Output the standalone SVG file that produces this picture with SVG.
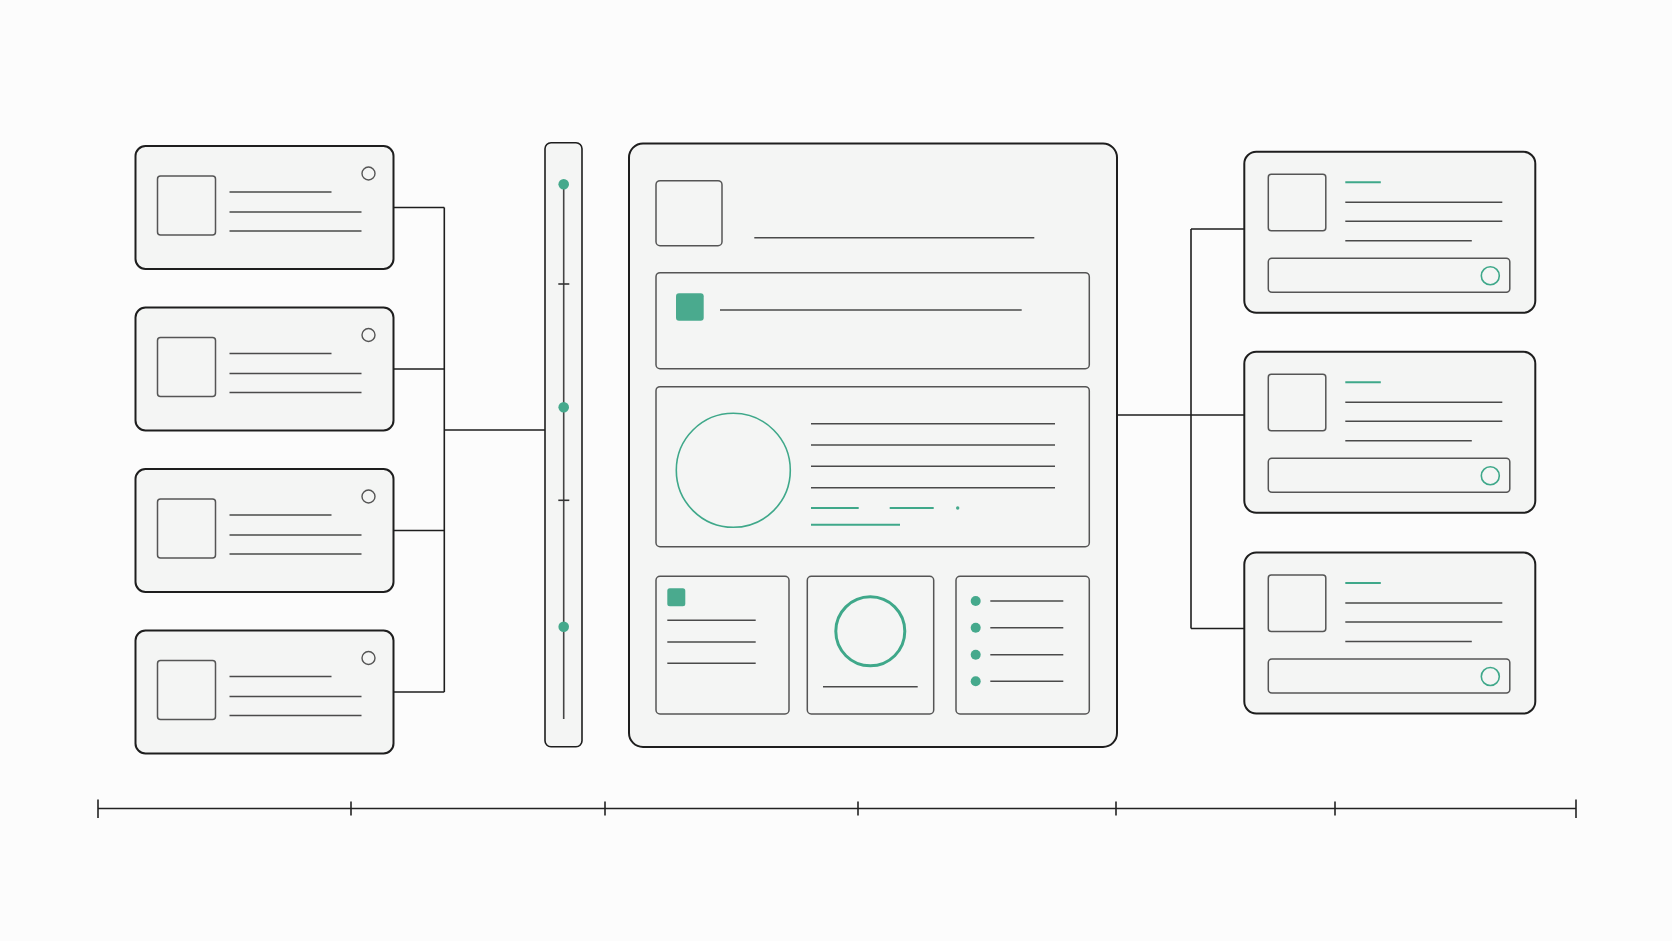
<svg xmlns="http://www.w3.org/2000/svg" width="1672" height="941" viewBox="0 0 1672 941">
<style>
.card{fill:#f4f5f4;stroke:#1e1e1e;stroke-width:2}
.inner{fill:#f4f5f4;stroke:#555;stroke-width:1.5}
.ln{stroke:#4a4a4a;stroke-width:1.6;fill:none}
.gln{stroke:#3fa88a;stroke-width:2;fill:none}
.conn{stroke:#1e1e1e;stroke-width:1.6;fill:none}
.gdot{fill:#45a98c}
.gsq{fill:#4aaa8e}
.ring{fill:none;stroke:#555;stroke-width:1.4}
.gring{fill:none;stroke:#3fa88a;stroke-width:1.6}
</style>
<defs>
<g id="lcard">
<rect class="card" x="0" y="0" width="258" height="123" rx="10"/>
<rect class="inner" x="22" y="30" width="58" height="59" rx="3"/>
<line class="ln" x1="94" y1="46" x2="196" y2="46"/>
<line class="ln" x1="94" y1="66" x2="226" y2="66"/>
<line class="ln" x1="94" y1="85" x2="226" y2="85"/>
<circle class="ring" cx="233" cy="27.5" r="6.5"/>
</g>
<g id="rcard">
<rect class="card" x="0" y="0" width="291" height="161" rx="12"/>
<rect class="inner" x="24" y="22.5" width="57.5" height="56.5" rx="3"/>
<line class="gln" x1="101" y1="30.5" x2="136.5" y2="30.5"/>
<line class="ln" x1="101" y1="50.5" x2="258" y2="50.5"/>
<line class="ln" x1="101" y1="69.5" x2="258" y2="69.5"/>
<line class="ln" x1="101" y1="89" x2="227.5" y2="89"/>
<rect class="inner" x="24" y="106.5" width="241.5" height="34" rx="3.5"/>
<circle class="gring" cx="246" cy="124" r="9"/>
</g>
</defs>
<rect width="1672" height="941" fill="#fcfcfc"/>

<g id="connectors">
<polyline class="conn" points="393.5,207.5 444.3,207.5"/>
<polyline class="conn" points="393.5,369 444.3,369"/>
<polyline class="conn" points="393.5,530.5 444.3,530.5"/>
<polyline class="conn" points="393.5,692 444.3,692"/>
<line class="conn" x1="444.3" y1="207.5" x2="444.3" y2="692"/>
<line class="conn" x1="444.3" y1="430" x2="545" y2="430"/>
<line class="conn" x1="1117" y1="415" x2="1244" y2="415"/>
<line class="conn" x1="1191" y1="229" x2="1191" y2="628.5"/>
<line class="conn" x1="1191" y1="229" x2="1244" y2="229"/>
<line class="conn" x1="1191" y1="628.5" x2="1244" y2="628.5"/>
</g>

<g id="left-card-1"><use href="#lcard" x="135.5" y="146"/></g>
<g id="left-card-2"><use href="#lcard" x="135.5" y="307.5"/></g>
<g id="left-card-3"><use href="#lcard" x="135.5" y="469"/></g>
<g id="left-card-4"><use href="#lcard" x="135.5" y="630.5"/></g>

<g id="timeline-bar">
<rect class="card" x="545" y="142.7" width="37" height="604" rx="6" fill="#f7f8f7" style="stroke-width:1.6"/>
<line x1="563.7" y1="184" x2="563.7" y2="719" stroke="#444" stroke-width="1.6"/>
<line x1="558.3" y1="284" x2="569.3" y2="284" stroke="#333" stroke-width="1.6"/>
<line x1="558.3" y1="500.3" x2="569.3" y2="500.3" stroke="#333" stroke-width="1.6"/>
<circle class="gdot" cx="563.7" cy="184.3" r="5.3"/>
<circle class="gdot" cx="563.7" cy="407.3" r="5.3"/>
<circle class="gdot" cx="563.7" cy="626.7" r="5.3"/>
</g>

<g id="main-panel">
<rect class="card" x="629" y="143.5" width="488" height="603.5" rx="14"/>
<rect class="inner" x="656" y="180.7" width="66" height="65" rx="4"/>
<line class="ln" x1="754.3" y1="237.7" x2="1034.3" y2="237.7"/>
<rect class="inner" x="656" y="272.7" width="433.3" height="96" rx="4"/>
<rect class="gsq" x="676" y="293.3" width="27.7" height="27.4" rx="3"/>
<line class="ln" x1="720" y1="310" x2="1021.7" y2="310"/>
<rect class="inner" x="656" y="386.7" width="433.3" height="160" rx="4"/>
<circle class="gring" cx="733.3" cy="470.3" r="57"/>
<line class="ln" x1="811" y1="423.7" x2="1055" y2="423.7"/>
<line class="ln" x1="811" y1="445" x2="1055" y2="445"/>
<line class="ln" x1="811" y1="466.3" x2="1055" y2="466.3"/>
<line class="ln" x1="811" y1="487.7" x2="1055" y2="487.7"/>
<line class="gln" x1="811" y1="508" x2="858.7" y2="508"/>
<line class="gln" x1="889.7" y1="508" x2="933.7" y2="508"/>
<circle class="gdot" cx="957.7" cy="508" r="1.7"/>
<line class="gln" x1="811" y1="524.7" x2="900" y2="524.7"/>
<rect class="inner" x="656" y="576.3" width="133" height="137.7" rx="4"/>
<rect class="gsq" x="667.3" y="588.3" width="18" height="18" rx="2.5"/>
<line class="ln" x1="667.3" y1="620.3" x2="755.7" y2="620.3"/>
<line class="ln" x1="667.3" y1="642" x2="755.7" y2="642"/>
<line class="ln" x1="667.3" y1="663.3" x2="755.7" y2="663.3"/>
<rect class="inner" x="807.3" y="576.3" width="126.4" height="137.7" rx="4"/>
<circle cx="870.3" cy="631.3" r="34.5" fill="none" stroke="#3fa88a" stroke-width="3"/>
<line class="ln" x1="823" y1="686.7" x2="917.7" y2="686.7"/>
<rect class="inner" x="956" y="576.3" width="133.3" height="137.7" rx="4"/>
<circle class="gdot" cx="975.7" cy="601" r="5"/>
<circle class="gdot" cx="975.7" cy="627.7" r="5"/>
<circle class="gdot" cx="975.7" cy="654.7" r="5"/>
<circle class="gdot" cx="975.7" cy="681.3" r="5"/>
<line class="ln" x1="990.3" y1="601" x2="1063.3" y2="601"/>
<line class="ln" x1="990.3" y1="627.7" x2="1063.3" y2="627.7"/>
<line class="ln" x1="990.3" y1="654.7" x2="1063.3" y2="654.7"/>
<line class="ln" x1="990.3" y1="681.3" x2="1063.3" y2="681.3"/>
</g>

<g id="right-card-1"><use href="#rcard" x="1244.3" y="151.7"/></g>
<g id="right-card-2"><use href="#rcard" x="1244.3" y="351.7"/></g>
<g id="right-card-3"><use href="#rcard" x="1244.3" y="552.5"/></g>

<g id="axis" stroke="#222" stroke-width="1.6">
<line x1="98" y1="808.5" x2="1576" y2="808.5"/>
<line x1="98" y1="799.5" x2="98" y2="818"/>
<line x1="1576" y1="799.5" x2="1576" y2="818"/>
<line x1="351" y1="801.5" x2="351" y2="815.5"/>
<line x1="605" y1="801.5" x2="605" y2="815.5"/>
<line x1="858" y1="801.5" x2="858" y2="815.5"/>
<line x1="1116" y1="801.5" x2="1116" y2="815.5"/>
<line x1="1335" y1="801.5" x2="1335" y2="815.5"/>
</g>
</svg>
